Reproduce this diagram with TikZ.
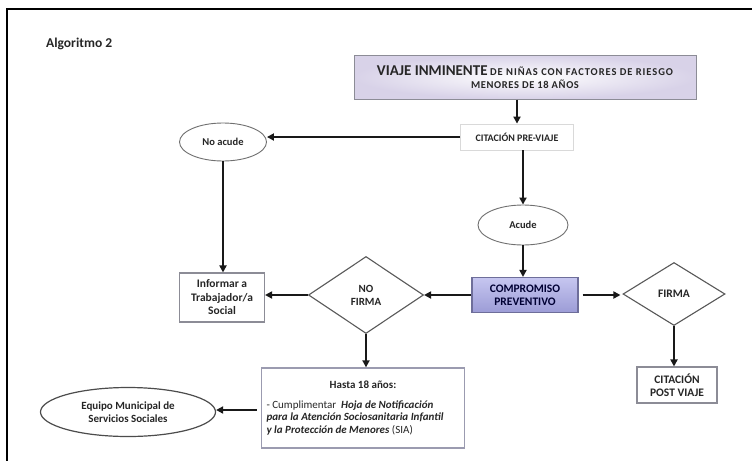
\documentclass[tikz,border=0pt]{standalone}
\usepackage{fontspec}
\setmainfont{Carlito}
\usetikzlibrary{shapes.geometric,arrows.meta}

\definecolor{edgegray}{HTML}{707070}
\definecolor{boxgray}{HTML}{8C8C96}
\definecolor{lavtop}{HTML}{C6C6F0}
\definecolor{lavbot}{HTML}{9C9CD6}
\definecolor{lavedge}{HTML}{6E6E9A}
\definecolor{haze}{HTML}{D8D2E8}

\tikzset{
  conn/.style={line width=1.8pt, draw=black!90, -{Triangle[length=7pt,width=7pt]}},
  lbl/.style={font=\bfseries\fontsize{11.5}{13}\selectfont, align=center, text=black!85},
  oval/.style={lbl, ellipse, draw=edgegray, line width=0.9pt, inner sep=0pt},
  choice/.style={lbl, diamond, draw=black!65, line width=1.1pt, inner sep=0pt, aspect=1.6},
  plainbox/.style={lbl, rectangle, draw=boxgray, line width=1.1pt, inner sep=2pt},
}

\begin{document}
\begin{tikzpicture}[x=1pt,y=-1pt]
\useasboundingbox (0,0) rectangle (752,461);
\fill[white] (0,0) rectangle (752,461);

% page frame
\draw[line width=1.5pt] (752,9) -- (7,9) -- (7,461);

\node[font=\bfseries\fontsize{13.5}{15}\selectfont, anchor=west, inner sep=0pt, text=black!85] (title) at (46,44) {Algoritmo 2};

% trigger box
\node[lbl, rectangle, minimum width=342pt, minimum height=44pt, inner sep=0pt,
      draw=boxgray, line width=1pt, inner color=white, outer color=haze] (viaje) at (525,77)
  {{\fontsize{15}{16}\selectfont VIAJE INMINENTE} {\fontsize{10.5}{12}\selectfont\addfontfeature{LetterSpace=9}DE NIÑAS CON FACTORES DE RIESGO}\\[0pt]
   {\fontsize{10.5}{12}\selectfont\addfontfeature{LetterSpace=6}MENORES DE 18 AÑOS}};

\node[plainbox, font=\bfseries\fontsize{10}{12}\selectfont, draw=black!15, line width=0.8pt,
      minimum width=113pt, minimum height=26pt] (cit1) at (517,137)
  {CITACIÓN PRE-VIAJE};

\node[oval, font=\bfseries\fontsize{10.5}{12}\selectfont, minimum width=87pt, minimum height=38pt] (noacude) at (223,142) {No acude};
\node[oval, font=\bfseries\fontsize{10.5}{12}\selectfont, minimum width=90pt, minimum height=40pt] (acude) at (523,225) {Acude};

\node[lbl, rectangle, minimum width=106pt, minimum height=35pt, inner sep=0pt,
      draw=lavedge, line width=1.1pt, top color=lavtop, bottom color=lavbot,
      text=black!80!blue] (comp) at (525,295) {COMPROMISO\\PREVENTIVO};

\node[choice, minimum width=102pt, minimum height=63pt] (firma) at (674,294) {FIRMA};
\node[plainbox, minimum width=80pt, minimum height=36pt] (postv) at (677,385) {CITACIÓN\\POST VIAJE};

\node[choice, font=\bfseries\fontsize{11}{13}\selectfont, minimum width=115pt, minimum height=77pt] (nofirma) at (366,295) {NO\\FIRMA};
\node[plainbox, font=\bfseries\fontsize{11.5}{13.5}\selectfont, minimum width=85pt, minimum height=49pt, inner sep=0pt] (inform) at (222,297.5)
  {Informar a\\Trabajador/a\\Social};

\node[lbl, font=\bfseries\fontsize{11}{12.5}\selectfont, rectangle, draw=lavedge!80!black!60, line width=1.3pt,
      minimum width=203pt, minimum height=80pt, inner sep=0pt, align=left] (hasta) at (363,408)
  {\makebox[193pt][c]{Hasta 18 años:}\\[7pt]
   {\mdseries - Cumplimentar}\ \ \textit{Hoja de Notificación}\\
   \textit{para la Atención Sociosanitaria Infantil}\\
   \textit{y la Protección de Menores} {\mdseries (SIA)}};

\node[oval, font=\bfseries\fontsize{11}{13}\selectfont, line width=1.2pt, draw=black!70,
      minimum width=175pt, minimum height=49pt] (equipo) at (128,412)
  {Equipo Municipal de\\Servicios Sociales};

% connectors
\draw[conn] (viaje.south -| cit1.north) -- (cit1.north);
\draw[conn] (cit1.west) -- (cit1.west -| noacude.east);
\draw[conn] (noacude.south) -- (noacude.south |- inform.north);
\draw[conn] (cit1.south -| acude.north) -- (acude.north);
\draw[conn] (acude.south) -- (acude.south |- comp.north);
\draw[conn, shorten <=4pt, shorten >=2pt] (comp.east) -- (comp.east -| firma.west);
\draw[conn] (firma.south) -- (firma.south |- postv.north);
\draw[conn] (comp.west) -- (comp.west -| nofirma.east);
\draw[conn] (nofirma.west) -- (nofirma.west -| inform.east);
\draw[conn] (nofirma.south) -- (nofirma.south |- hasta.north);
\draw[conn, shorten <=4pt] (hasta.west |- 0,410) -- (equipo.east |- 0,410);
\end{tikzpicture}
\end{document}
